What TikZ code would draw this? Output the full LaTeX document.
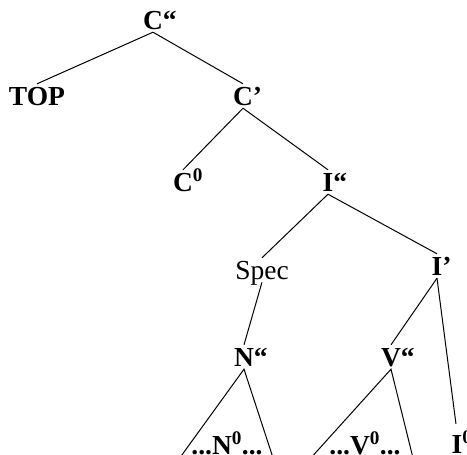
\documentclass[tikz,border=0pt]{standalone}
\usepackage{fontspec}
\setmainfont{Liberation Serif}
\usepackage{tikz}
\usetikzlibrary{positioning}

\begin{document}
\begin{tikzpicture}[
  x=1pt, y=-1pt,
  cat/.style={font=\fontsize{27.5}{32}\selectfont\bfseries, inner xsep=0pt, inner ysep=3pt, text height=18pt, text depth=0pt},
  spec/.style={cat, font=\fontsize{27.5}{32}\selectfont},
  branch/.style={draw, line width=1pt}
]
\clip (0,0) rectangle (467,455);
\node[cat] (cpp) at (153,20) {C\rlap{“}};
\node[cat] (top) at (37,96) {TOP};
\node[cat] (cp) at (243,96) {C\rlap{’}};
\node[cat] (c0) at (183,182) {C\rlap{\textsuperscript{0}}};
\node[cat] (ipp) at (328,182) {I\rlap{“}};
\node[spec] (spec) at (262,270) {Spec};
\node[cat] (ip) at (437,266) {I\rlap{’}};
\node[cat] (npp) at (244,357) {N\rlap{“}};
\node[cat] (vpp) at (391,357) {V\rlap{“}};
\node[cat] (n0) at (227,445) {...N\textsuperscript{0}...};
\node[cat] (v0) at (365,445) {...V\textsuperscript{0}...};
\node[cat] (i0) at (457,444) {I\rlap{\textsuperscript{0}}};
% open triangles, cut by the lower edge
\coordinate (nl) at (171,470);
\coordinate (nr) at (277,470);
\coordinate (vl) at (300,470);
\coordinate (vr) at (416,470);

\draw[branch] (cpp.south) -- (top.north);
\draw[branch] (cpp.south) -- (cp.north);
\draw[branch] (cp.south) -- (c0.north);
\draw[branch] (cp.south) -- (ipp.north);
\draw[branch] (ipp.south) -- (spec.north);
\draw[branch] (ipp.south) -- (ip.north);
\draw[branch] (spec.south) -- (npp.north);
\draw[branch] (ip.south) -- (vpp.north);
\draw[branch, shorten >=8pt] (ip.south) -- (i0.north);
\draw[branch] (nl) -- (npp.south) -- (nr);
\draw[branch] (vl) -- (vpp.south) -- (vr);
\end{tikzpicture}
\end{document}
